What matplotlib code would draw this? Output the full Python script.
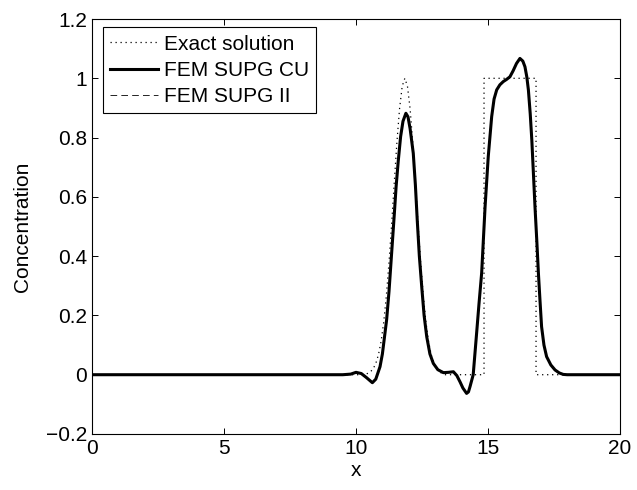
import matplotlib
matplotlib.use("Agg")
import matplotlib.pyplot as plt

# exact solution: smooth pulse + square pulse
exact_x = [0.0, 10.35, 10.45, 10.55, 10.65, 10.75, 10.85, 10.95, 11.05, 11.15, 11.25,
           11.35, 11.45, 11.55, 11.65, 11.75, 11.85, 11.95, 12.05, 12.15, 12.25,
           12.35, 12.45, 12.55, 12.65, 12.75, 12.85, 12.95, 13.05, 13.15, 13.25,
           13.35, 14.85, 14.85, 16.82, 16.82, 20.0]
exact_y = [0.0, 0.0, 0.005, 0.010, 0.020, 0.038, 0.067, 0.112, 0.177, 0.266, 0.378,
           0.508, 0.649, 0.784, 0.897, 0.973, 1.0, 0.973, 0.897, 0.784, 0.649,
           0.508, 0.378, 0.266, 0.177, 0.112, 0.067, 0.038, 0.020, 0.010, 0.005,
           0.0, 0.0, 1.0, 1.0, 0.0, 0.0]

# FEM SUPG CU
cu_x = [0.0, 9.5, 9.8, 10.0, 10.2, 10.4, 10.62, 10.75, 10.91, 11.0, 11.16, 11.25,
        11.35, 11.45, 11.52, 11.6, 11.69, 11.78, 11.89, 11.97, 12.05, 12.17, 12.25,
        12.32, 12.4, 12.49, 12.58, 12.68, 12.8, 12.93, 13.1, 13.31, 13.5, 13.69,
        13.82, 13.94, 14.05, 14.19, 14.26, 14.32, 14.44, 14.57, 14.66, 14.76, 14.89,
        15.01, 15.14, 15.23, 15.33, 15.45, 15.58, 15.7, 15.83, 15.95, 16.08, 16.21,
        16.32, 16.40, 16.47, 16.53, 16.6, 16.66, 16.72, 16.78, 16.85, 16.91, 16.97,
        17.03, 17.12, 17.22, 17.38, 17.54, 17.7, 17.85, 18.0, 20.0]
cu_y = [0.0, 0.0, 0.002, 0.008, 0.004, -0.01, -0.027, -0.015, 0.027, 0.07, 0.185, 0.28,
        0.41, 0.54, 0.635, 0.72, 0.803, 0.855, 0.882, 0.87, 0.83, 0.747, 0.64,
        0.522, 0.4, 0.297, 0.2, 0.128, 0.07, 0.038, 0.017, 0.007, 0.008, 0.01,
        -0.003, -0.024, -0.045, -0.063, -0.058, -0.04, 0.0, 0.141, 0.24, 0.343, 0.567,
        0.736, 0.871, 0.93, 0.961, 0.978, 0.989, 0.996, 1.005, 1.025, 1.05, 1.067,
        1.058, 1.039, 1.005, 0.961, 0.88, 0.792, 0.68, 0.567, 0.45, 0.342, 0.25,
        0.162, 0.1, 0.061, 0.033, 0.016, 0.006, 0.001, 0.0, 0.0]

# FEM SUPG II (lies on top of CU)
ii_x = cu_x
ii_y = cu_y

x_ticks = [0, 5, 10, 15, 20]
y_ticks = [-0.2, 0, 0.2, 0.4, 0.6, 0.8, 1, 1.2]
y_ticklabels = ["\u22120.2", "0", "0.2", "0.4", "0.6", "0.8", "1", "1.2"]


def main():
    plt.rcParams["font.family"] = ["Liberation Sans", "DejaVu Sans"]
    plt.rcParams["font.size"] = 15

    fig = plt.figure(figsize=(6.37, 4.9), dpi=100)
    ax = fig.add_axes([0.1444, 0.1143, 0.8289, 0.8469])

    ax.plot(exact_x, exact_y, c="k", lw=0.9, ls=(0, (1, 3)), label="Exact solution")
    ax.plot(cu_x, cu_y, c="k", lw=2.2, label="FEM SUPG CU")
    ax.plot(ii_x, ii_y, c="k", lw=0.6, ls=(0, (8, 5)), label="FEM SUPG II")

    ax.set_xlim(0, 20)
    ax.set_ylim(-0.2, 1.2)
    ax.set_xticks(x_ticks)
    ax.set_yticks(y_ticks)
    ax.set_yticklabels(y_ticklabels)
    ax.tick_params(direction="in", top=True, right=True, length=4, width=0.7)
    for s in ax.spines.values():
        s.set_linewidth(0.8)

    ax.set_xlabel("x", labelpad=2)
    ax.set_ylabel("Concentration", labelpad=10)

    leg = ax.legend(loc="upper left", bbox_to_anchor=(0.02, 0.98), fancybox=False,
                    edgecolor="k", framealpha=1, handlelength=2.3, handletextpad=0.3,
                    borderpad=0.35, labelspacing=0.35, borderaxespad=0)
    leg.get_frame().set_linewidth(0.8)
    return fig, ax


if __name__ == "__main__":
    fig, ax = main()
    fig.savefig("out.png", dpi=100)
